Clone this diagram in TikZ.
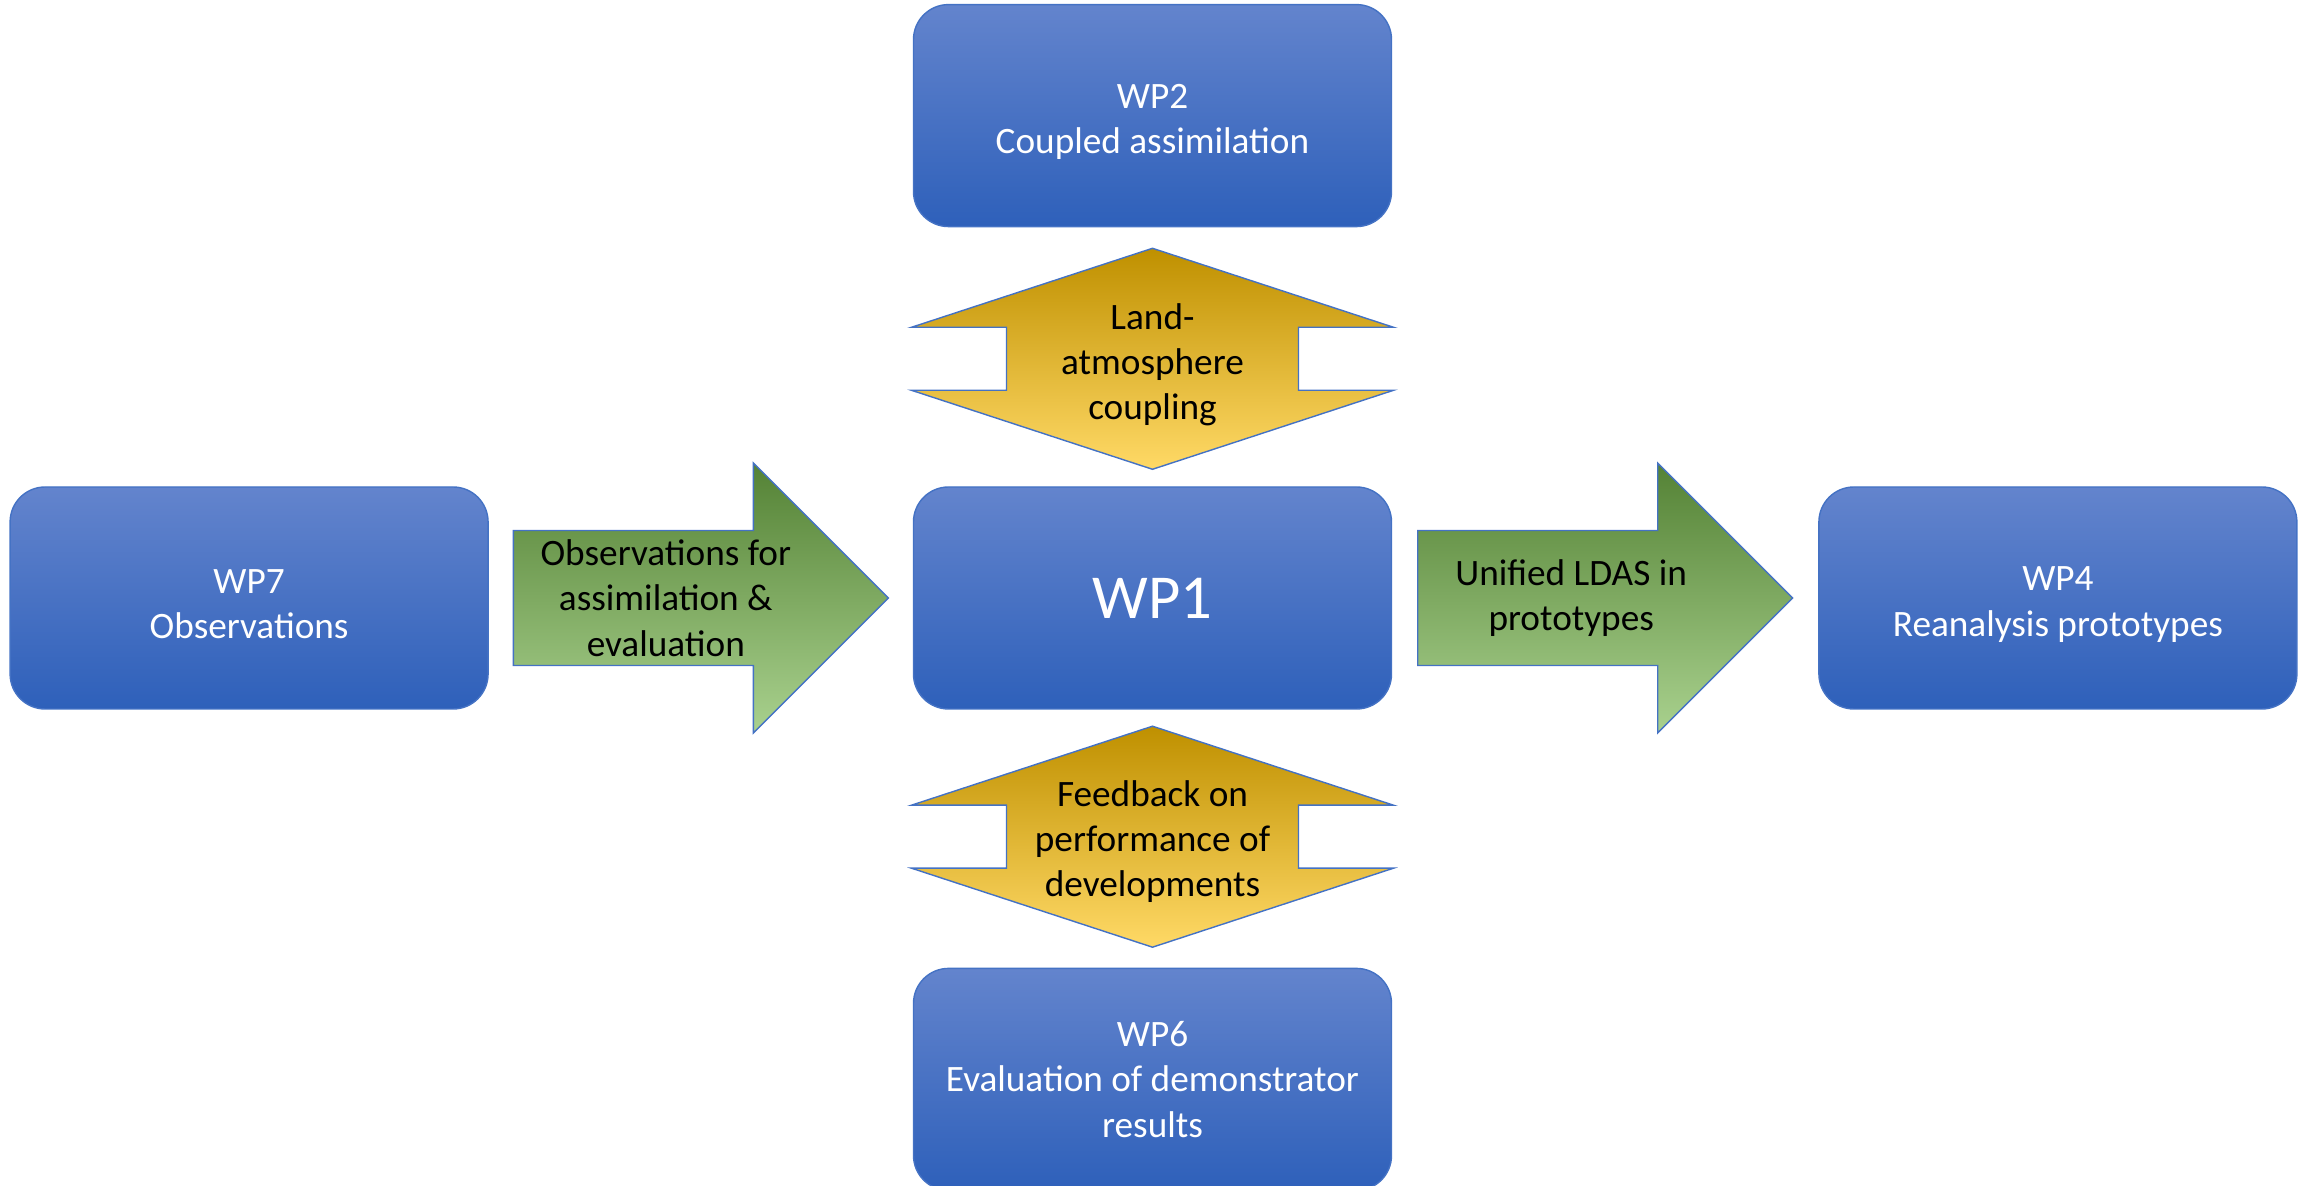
\documentclass[tikz,border=0pt]{standalone}
\usepackage{fontspec}
\setmainfont{Carlito}
\usepackage{xcolor}
\definecolor{bxTop} {HTML}{6384CD}
\definecolor{bxBot} {HTML}{2E60BA}
\definecolor{bxLine}{HTML}{4472C4}
\definecolor{gdTop} {HTML}{BF9000}
\definecolor{gdBot} {HTML}{FFD966}
\definecolor{gnTop} {HTML}{548235}
\definecolor{gnBot} {HTML}{A9D18E}
\usetikzlibrary{positioning, calc}
% outlines of the block arrows, around their centre
\newcommand{\updownpath}{(0,1.105) -- (2.41,0.315) -- (1.46,0.315) -- (1.46,-0.315)
  -- (2.41,-0.315) -- (0,-1.105) -- (-2.41,-0.315) -- (-1.46,-0.315)
  -- (-1.46,0.315) -- (-2.41,0.315) -- cycle}
\newcommand{\rightpath}{(-1.875,0.675) -- (0.525,0.675) -- (0.525,1.35) -- (1.875,0)
  -- (0.525,-1.35) -- (0.525,-0.675) -- (-1.875,-0.675) -- cycle}
% extra room above the first line
\newcommand{\toproom}{\rule{0pt}{10.5pt}}
\tikzset{
  wp/.style   = {rectangle, rounded corners=0.35cm, draw=bxLine, line width=0.4pt,
                 top color=bxTop, bottom color=bxBot,
                 minimum width=4.78cm, minimum height=2.22cm, inner sep=0pt,
                 align=center, text=white, font=\fontsize{10.6}{12.9}\selectfont},
  gold/.style = {draw=bxLine, line width=0.4pt, top color=gdTop, bottom color=gdBot},
  flow/.style = {draw=bxLine, line width=0.4pt, top color=gnTop, bottom color=gnBot},
  lbl/.style  = {align=center, inner sep=0pt, text=black,
                 font=\fontsize{10.6}{12.9}\selectfont},
}

\begin{document}
\begin{tikzpicture}
  \useasboundingbox (0,0) rectangle (23.05,11.86);

  \node[wp, font=\fontsize{17.8}{21}\selectfont] (wp1) at (11.525,5.88) {WP1};

  \node[wp, above=2.59cm of wp1] (wp2) {\toproom WP2\\Coupled assimilation};
  \node[wp, below=2.58cm of wp1] (wp6) {WP6\\Evaluation of demonstrator\\results};
  \node[wp, left=4.24cm of wp1]  (wp7) {\toproom WP7\\Observations};
  \node[wp, right=4.26cm of wp1] (wp4) {\toproom WP4\\Reanalysis prototypes};

  % two-way arrows
  \coordinate (cpl) at ($(wp2.south)!0.5!(wp1.north)+(0,-0.02)$);
  \coordinate (fbk) at ($(wp1.south)!0.5!(wp6.north)+(0,0.02)$);
  \shade[gold, shift={(cpl)}] \updownpath;
  \shade[gold, shift={(fbk)}] \updownpath;
  \node[lbl, yshift=-0.06cm] (cplT) at (cpl) {Land-\\atmosphere\\coupling};
  \node[lbl, yshift=-0.05cm] (fbkT) at (fbk) {Feedback on\\performance of\\developments};

  % one-way arrows
  \coordinate (obs) at ($(wp7.east)!0.5!(wp1.west)$);
  \coordinate (lds) at ($(wp1.east)!0.5!(wp4.west)$);
  \shade[flow, shift={(obs)}] \rightpath;
  \shade[flow, shift={(lds)}] \rightpath;
  \node[lbl, xshift=-0.35cm] (obsT) at (obs) {Observations for\\assimilation \&\\evaluation};
  \node[lbl, xshift=-0.34cm] (ldsT) at (lds) {Unified LDAS in\\prototypes};

\end{tikzpicture}
\end{document}
